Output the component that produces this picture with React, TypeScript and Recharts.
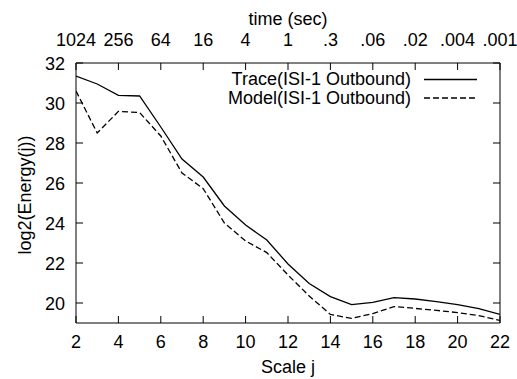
import { LineChart, Line, XAxis, YAxis, Label } from "recharts";

// scale index j and the two log2(energy) curves
const scaleJ = [2, 3, 4, 5, 6, 7, 8, 9, 10, 11, 12, 13, 14, 15, 16, 17, 18, 19, 20, 21, 22];
const traceEnergy = [31.35, 30.95, 30.38, 30.35, 28.8, 27.2, 26.3, 24.85, 23.9, 23.15, 21.95, 20.97, 20.32, 19.92, 20.03, 20.27, 20.2, 20.07, 19.92, 19.72, 19.43];
const modelEnergy = [30.6, 28.5, 29.58, 29.52, 28.35, 26.5, 25.72, 24.0, 23.1, 22.52, 21.4, 20.35, 19.43, 19.23, 19.47, 19.82, 19.73, 19.63, 19.52, 19.37, 19.13];

const scaleTicks = [2, 4, 6, 8, 10, 12, 14, 16, 18, 20, 22];
const timeLabels = ["1024", "256", "64", "16", "4", "1", ".3", ".06", ".02", ".004", ".001"];
const energyTicks = [20, 22, 24, 26, 28, 30, 32];

const seriesNames = ["Trace(ISI-1 Outbound)", "Model(ISI-1 Outbound)"];

const data = scaleJ.map((j, i) => ({ j, trace: traceEnergy[i], model: modelEnergy[i] }));

const FONT = "'Liberation Sans', Arial, Helvetica, sans-serif";
const FONT_SIZE = 18;
const TICK_LEN = 7;
const DASH = "6 3";

// gnuplot-style ticks: short marks pointing into the plot, labels outside
const BottomTick = (props: any) => {
  const { x, y, payload } = props;
  return (
    <g>
      <line x1={x} y1={y} x2={x} y2={y - TICK_LEN} stroke="#000" />
      <text x={x} y={y + 24.5} textAnchor="middle" fontFamily={FONT} fontSize={FONT_SIZE} fill="#000">
        {payload.value}
      </text>
    </g>
  );
};

const TopTick = (props: any) => {
  const { x, y, payload, index } = props;
  const label = timeLabels[scaleTicks.indexOf(payload.value)] ?? timeLabels[index];
  return (
    <g>
      <line x1={x} y1={y} x2={x} y2={y + TICK_LEN} stroke="#000" />
      <text x={x} y={y - 17.5} textAnchor="middle" fontFamily={FONT} fontSize={FONT_SIZE} fill="#000">
        {label}
      </text>
    </g>
  );
};

const LeftTick = (props: any) => {
  const { x, y, payload } = props;
  return (
    <g>
      <line x1={x} y1={y} x2={x + TICK_LEN} y2={y} stroke="#000" />
      <text x={x - 11} y={y + 6.5} textAnchor="end" fontFamily={FONT} fontSize={FONT_SIZE} fill="#000">
        {payload.value}
      </text>
    </g>
  );
};

const RightTick = (props: any) => {
  const { x, y } = props;
  return <line x1={x} y1={y} x2={x - TICK_LEN} y2={y} stroke="#000" />;
};

const YTitle = () => (
  <text
    x={25}
    y={195}
    transform="rotate(-90 25 195)"
    textAnchor="middle"
    dominantBaseline="central"
    fontFamily={FONT}
    fontSize={FONT_SIZE}
    fill="#000"
  >
    log2(Energy(j))
  </text>
);

export default function App() {
  return (
    <div style={{ position: "absolute", left: 0, top: 0, width: 517, height: 379, background: "#fff" }}>
      <LineChart width={517} height={379} data={data} margin={{ top: 5, right: 5, bottom: 5, left: 5 }}>
        <XAxis
          xAxisId="bottom"
          dataKey="j"
          type="number"
          domain={[2, 22]}
          ticks={scaleTicks}
          allowDataOverflow
          height={51}
          tickSize={0}
          tickMargin={0}
          tickLine={false}
          axisLine={{ stroke: "#000" }}
          tick={BottomTick}
          interval={0}
        >
          <Label value="Scale j" position="insideBottom" offset={1} fontFamily={FONT} fontSize={FONT_SIZE} fill="#000" />
        </XAxis>
        <XAxis
          xAxisId="top"
          orientation="top"
          dataKey="j"
          type="number"
          domain={[2, 22]}
          ticks={scaleTicks}
          allowDataOverflow
          height={58}
          tickSize={0}
          tickMargin={0}
          tickLine={false}
          axisLine={{ stroke: "#000" }}
          tick={TopTick}
          interval={0}
        >
          <Label value="time (sec)" position="insideTop" offset={7} fontFamily={FONT} fontSize={FONT_SIZE} fill="#000" />
        </XAxis>
        <YAxis
          yAxisId="left"
          type="number"
          domain={[19, 32]}
          ticks={energyTicks}
          allowDataOverflow
          width={71}
          tickSize={0}
          tickMargin={0}
          tickLine={false}
          axisLine={{ stroke: "#000" }}
          tick={LeftTick}
          interval={0}
        >
          <Label content={YTitle} />
        </YAxis>
        <YAxis
          yAxisId="right"
          orientation="right"
          type="number"
          domain={[19, 32]}
          ticks={energyTicks}
          allowDataOverflow
          width={12}
          tickSize={0}
          tickMargin={0}
          tickLine={false}
          axisLine={{ stroke: "#000" }}
          tick={RightTick}
          interval={0}
        />
        <Line
          xAxisId="bottom"
          yAxisId="left"
          type="linear"
          dataKey="trace"
          name={seriesNames[0]}
          stroke="#000"
          strokeWidth={1.3}
          dot={false}
          isAnimationActive={false}
        />
        <Line
          xAxisId="bottom"
          yAxisId="left"
          type="linear"
          dataKey="model"
          name={seriesNames[1]}
          stroke="#000"
          strokeWidth={1.3}
          strokeDasharray={DASH}
          dot={false}
          isAnimationActive={false}
        />
        {/* keeps the top / right mirror axes bound to data */}
        <Line
          xAxisId="top"
          yAxisId="right"
          dataKey="trace"
          stroke="none"
          dot={false}
          activeDot={false}
          legendType="none"
          isAnimationActive={false}
        />
      </LineChart>

      {/* key, top right inside the frame */}
      <svg width={517} height={379} style={{ position: "absolute", left: 0, top: 0, pointerEvents: "none" }}>
        <text x={411} y={85} textAnchor="end" fontFamily={FONT} fontSize={FONT_SIZE} fill="#000">
          {seriesNames[0]}
        </text>
        <line x1={424} y1={79.5} x2={477} y2={79.5} stroke="#000" strokeWidth={1.3} />
        <text x={411} y={103.5} textAnchor="end" fontFamily={FONT} fontSize={FONT_SIZE} fill="#000">
          {seriesNames[1]}
        </text>
        <line x1={424} y1={98} x2={477} y2={98} stroke="#000" strokeWidth={1.3} strokeDasharray={DASH} />
      </svg>
    </div>
  );
}
